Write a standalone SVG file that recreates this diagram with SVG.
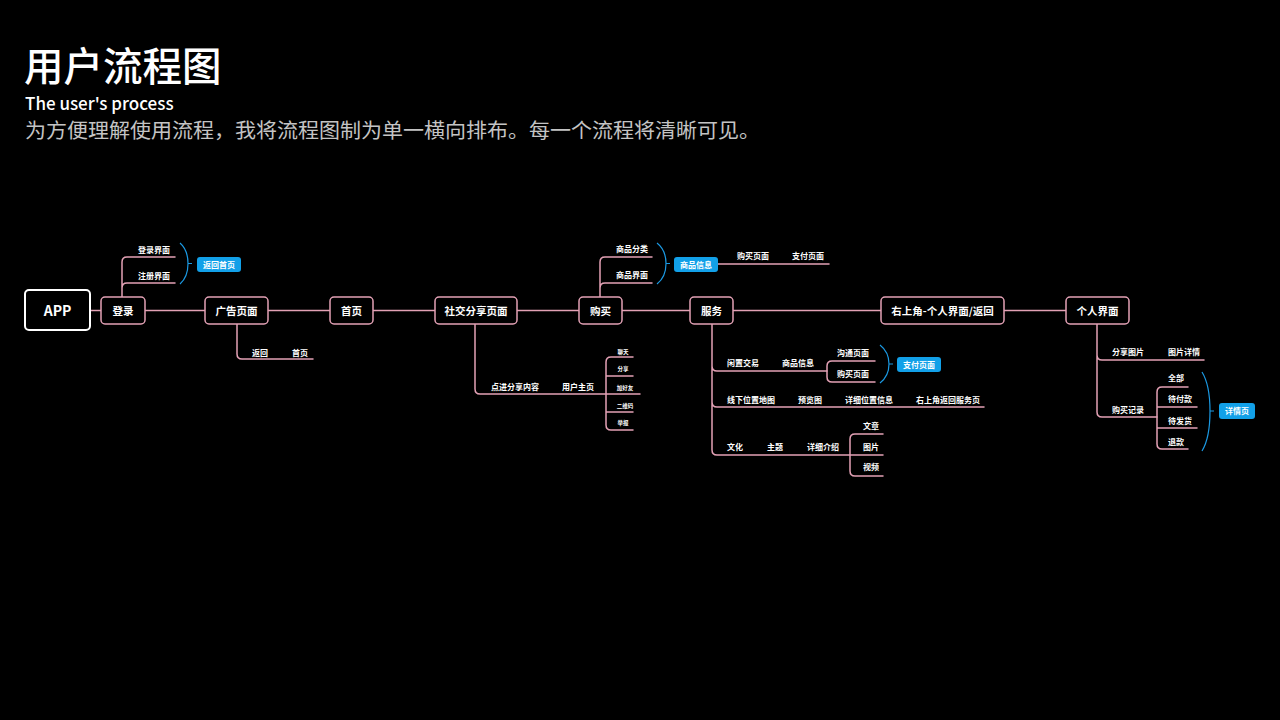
<svg xmlns="http://www.w3.org/2000/svg" width="1280" height="720" viewBox="0 0 1280 720">
<style>
.ln{fill:none;stroke:#e3a1b5;stroke-width:1.5;stroke-linecap:round}
.nd{fill:#000;stroke:#e3a1b5;stroke-width:1.5}
.nt{fill:#fff;font-family:"Noto Sans CJK SC",sans-serif;font-weight:bold;font-size:10.5px;text-anchor:middle}
.bt{fill:#fff;font-family:"Noto Sans CJK SC",sans-serif;font-weight:bold;font-size:8px;text-anchor:middle}
.st{fill:#fff;font-family:"Noto Sans CJK SC",sans-serif;font-weight:bold;font-size:5.5px;text-anchor:middle}
.br{fill:none;stroke:#1b9ae4;stroke-width:1.2}
.pl{fill:#12a0e8}
.pt{fill:#fff;font-family:"Noto Sans CJK SC",sans-serif;font-weight:bold;font-size:8px;text-anchor:middle}
</style>
<rect width="1280" height="720" fill="#000"/>
<g id="title">
<text x="24" y="81" fill="#fff" font-family="Noto Sans CJK SC, sans-serif" font-weight="500" font-size="39.5">用户流程图</text>
<text x="25" y="110" fill="#fff" font-family="Noto Sans CJK SC, sans-serif" font-weight="500" font-size="17">The user's process</text>
<text x="25" y="138" fill="#c4c4c4" font-family="Noto Sans CJK SC, sans-serif" font-size="20" textLength="735" lengthAdjust="spacingAndGlyphs">为方便理解使用流程，我将流程图制为单一横向排布。每一个流程将清晰可见。</text>
</g>
<g id="connectors">
<path class="ln" d="M90,310.5 H1066"/>
<path class="ln" d="M122,297 V262 Q122,257 127,257 H175 M122,288 Q122,283 127,283 H175"/>
<path class="ln" d="M237,324 V354 Q237,359 242,359 H313"/>
<path class="ln" d="M475,324 V389 Q475,394 480,394 H640"/>
<path class="ln" d="M633,357 H611 Q606,357 606,362 V425 Q606,430 611,430 H633 M606,376 H633 M606,412 H633"/>
<path class="ln" d="M600,297 V262 Q600,257 605,257 H652 M600,288 Q600,283 605,283 H652"/>
<path class="ln" d="M718,264 H829"/>
<path class="ln" d="M712,324 V450 Q712,455 717,455 H883 M712,366 Q712,371 717,371 H827 M712,402 Q712,407 717,407 H984"/>
<path class="ln" d="M875,361 H832 Q827,361 827,366 V377 Q827,382 832,382 H875"/>
<path class="ln" d="M883,434 H855 Q850,434 850,439 V471 Q850,476 855,476 H883"/>
<path class="ln" d="M1097,324 V412 Q1097,417 1102,417 H1157 M1097,355 Q1097,360 1102,360 H1204"/>
<path class="ln" d="M1188,387 H1162 Q1157,387 1157,392 V444 Q1157,449 1162,449 H1188 M1157,407 H1197 M1157,428 H1197"/>
<path class="br" d="M180,243 Q188,250 188,263.5 Q188,277 180,284 M188,263.5 H192"/>
<path class="br" d="M657,243 Q666,250 666,263.5 Q666,277 657,284 M666,263.5 H670"/>
<path class="br" d="M880,345 Q889,352 889,364 Q889,376 880,383 M889,364 H893"/>
<path class="br" d="M1202,372 Q1210,385 1210,411 Q1210,438 1202,451 M1210,411 H1214"/>
</g>
<g id="node-app"><rect x="25" y="290" width="65" height="40" rx="4" fill="#000" stroke="#fff" stroke-width="2"/><text x="57.5" y="315.5" fill="#fff" font-family="Noto Sans CJK SC, sans-serif" font-weight="bold" font-size="14" text-anchor="middle">APP</text></g>
<g id="node-login"><rect class="nd" x="101" y="297" width="44" height="27" rx="4"/><text class="nt" x="123" y="314.5">登录</text></g>
<g id="node-ad"><rect class="nd" x="205" y="297" width="63" height="27" rx="4"/><text class="nt" x="236.5" y="314.5">广告页面</text></g>
<g id="node-home"><rect class="nd" x="330" y="297" width="43" height="27" rx="4"/><text class="nt" x="351.5" y="314.5">首页</text></g>
<g id="node-social"><rect class="nd" x="435" y="297" width="82" height="27" rx="4"/><text class="nt" x="476" y="314.5">社交分享页面</text></g>
<g id="node-buy"><rect class="nd" x="579" y="297" width="43" height="27" rx="4"/><text class="nt" x="600.5" y="314.5">购买</text></g>
<g id="node-service"><rect class="nd" x="690" y="297" width="43" height="27" rx="4"/><text class="nt" x="711.5" y="314.5">服务</text></g>
<g id="node-topright"><rect class="nd" x="881" y="297" width="123" height="27" rx="4"/><text class="nt" x="942.5" y="314.5">右上角-个人界面/返回</text></g>
<g id="node-personal"><rect class="nd" x="1066" y="297" width="63" height="27" rx="4"/><text class="nt" x="1097.5" y="314.5">个人界面</text></g>
<g id="login-branch">
<text class="bt" x="154" y="253">登录界面</text>
<text class="bt" x="154" y="279">注册界面</text>
<rect class="pl" x="197" y="257" width="44" height="15" rx="3"/><text class="pt" x="219" y="267.5">返回首页</text>
</g>
<g id="ad-branch">
<text class="bt" x="260" y="356">返回</text>
<text class="bt" x="300" y="356">首页</text>
</g>
<g id="social-branch">
<text class="bt" x="515" y="390">点进分享内容</text>
<text class="bt" x="578" y="390">用户主页</text>
<text class="st" x="623" y="354">聊天</text>
<text class="st" x="623" y="371">分享</text>
<text class="st" x="625" y="390">加好友</text>
<text class="st" x="625" y="408">二维码</text>
<text class="st" x="623" y="425">举报</text>
</g>
<g id="buy-branch">
<text class="bt" x="632" y="252">商品分类</text>
<text class="bt" x="632" y="278">商品界面</text>
<rect class="pl" x="674" y="257" width="44" height="15" rx="3"/><text class="pt" x="696" y="267.5">商品信息</text>
<text class="bt" x="753" y="259">购买页面</text>
<text class="bt" x="808" y="259">支付页面</text>
</g>
<g id="service-branch">
<text class="bt" x="743" y="366">闲置交易</text>
<text class="bt" x="798" y="366">商品信息</text>
<text class="bt" x="853" y="356">沟通页面</text>
<text class="bt" x="853" y="377">购买页面</text>
<rect class="pl" x="897" y="357" width="44" height="15" rx="3"/><text class="pt" x="919" y="367.5">支付页面</text>
<text class="bt" x="751" y="403">线下位置地图</text>
<text class="bt" x="810" y="403">预览图</text>
<text class="bt" x="869" y="403">详细位置信息</text>
<text class="bt" x="948" y="403">右上角返回服务页</text>
<text class="bt" x="735" y="450">文化</text>
<text class="bt" x="775" y="450">主题</text>
<text class="bt" x="823" y="450">详细介绍</text>
<text class="bt" x="871" y="429">文章</text>
<text class="bt" x="871" y="450">图片</text>
<text class="bt" x="871" y="470">视频</text>
</g>
<g id="personal-branch">
<text class="bt" x="1128" y="355">分享图片</text>
<text class="bt" x="1184" y="355">图片详情</text>
<text class="bt" x="1128" y="413">购买记录</text>
<text class="bt" x="1176" y="381">全部</text>
<text class="bt" x="1180" y="402">待付款</text>
<text class="bt" x="1180" y="424">待发货</text>
<text class="bt" x="1176" y="445">退款</text>
<rect class="pl" x="1219" y="403" width="36" height="16" rx="3"/><text class="pt" x="1237" y="414">详情页</text>
</g>
</svg>
